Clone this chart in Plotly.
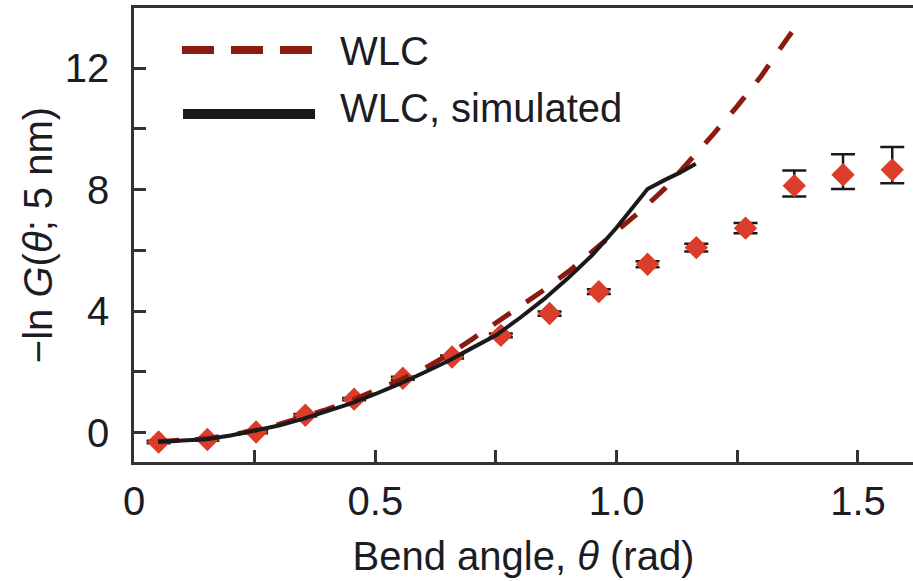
import plotly.graph_objects as go

# ---- data ----
theta_data = [0.051, 0.152, 0.253, 0.355, 0.456, 0.557, 0.659, 0.760,
              0.861, 0.963, 1.064, 1.165, 1.267, 1.368, 1.469, 1.571]
lng_data = [-0.31, -0.23, 0.02, 0.57, 1.10, 1.79, 2.49, 3.20,
            3.92, 4.64, 5.54, 6.09, 6.73, 8.13, 8.49, 8.65]
err_plus = [0.04, 0.04, 0.04, 0.04, 0.04, 0.05, 0.05, 0.06,
            0.07, 0.08, 0.10, 0.13, 0.17, 0.50, 0.67, 0.75]
err_minus = [0.04, 0.04, 0.04, 0.04, 0.04, 0.05, 0.05, 0.06,
             0.07, 0.08, 0.10, 0.13, 0.17, 0.36, 0.47, 0.44]

theta_wlc = [0.05, 0.10, 0.15, 0.20, 0.25, 0.30, 0.35, 0.40, 0.45, 0.50,
             0.55, 0.60, 0.65, 0.70, 0.75, 0.80, 0.85, 0.90, 0.95, 1.00,
             1.05, 1.10, 1.15, 1.20, 1.25, 1.30, 1.35, 1.375]
lng_wlc = [-0.30, -0.27, -0.20, -0.08, 0.07, 0.27, 0.50, 0.76, 1.05, 1.37,
           1.72, 2.09, 2.55, 3.07, 3.60, 4.15, 4.70, 5.30, 5.96, 6.64,
           7.30, 8.04, 8.90, 9.82, 10.75, 11.75, 12.90, 13.45]

theta_sim = [0.05, 0.10, 0.15, 0.20, 0.25, 0.30, 0.35, 0.40, 0.45, 0.50,
             0.55, 0.60, 0.65, 0.70, 0.75, 0.80, 0.85, 0.90, 0.95, 1.00,
             1.03, 1.064, 1.10, 1.13, 1.164]
lng_sim = [-0.30, -0.27, -0.22, -0.10, 0.05, 0.23, 0.45, 0.70, 0.96, 1.27,
           1.60, 1.97, 2.35, 2.78, 3.20, 3.78, 4.40, 5.10, 5.85, 6.75,
           7.35, 8.02, 8.32, 8.55, 8.85]

x_tickvals = [0, 0.25, 0.5, 0.75, 1.0, 1.25, 1.5]
x_ticktext = ["0", "", "0.5", "", "1.0", "", "1.5"]
y_tickvals = [0, 2, 4, 6, 8, 10, 12]
y_ticktext = ["0", "", "4", "", "8", "", "12"]

legend_labels = ["WLC", "WLC, simulated"]

# ---- style ----
FONT = "Liberation Sans, Arial, sans-serif"
FS = 40
TXT = "#1c1c24"
RED = "#dc3d2a"
DARKRED = "#8c1a10"
BLACK = "#1a1a1a"
AX = "#333333"

fig = go.Figure()

fig.add_trace(go.Scatter(
    x=theta_data, y=lng_data, mode="markers", name="data",
    marker=dict(symbol="diamond", size=18, color=RED, line=dict(width=0)),
    error_y=dict(type="data", symmetric=False, array=err_plus,
                 arrayminus=err_minus, color=BLACK, thickness=2.5, width=12),
    showlegend=False,
))
fig.add_trace(go.Scatter(
    x=theta_wlc, y=lng_wlc, mode="lines", name=legend_labels[0],
    line=dict(color=DARKRED, width=5, dash="21px,19px"),
    showlegend=False,
))
fig.add_trace(go.Scatter(
    x=theta_sim, y=lng_sim, mode="lines", name=legend_labels[1],
    line=dict(color=BLACK, width=4),
    showlegend=False,
))

# manual legend (long line samples as in the reference)
fig.add_shape(type="line", xref="paper", yref="paper",
              x0=0.0616, x1=0.2285, y0=0.9075, y1=0.9075,
              line=dict(color=DARKRED, width=8, dash="32px,17px"))
fig.add_shape(type="line", xref="paper", yref="paper",
              x0=0.0629, x1=0.2324, y0=0.7665, y1=0.7665,
              line=dict(color=BLACK, width=10))
fig.add_annotation(x=0.262, y=0.905, xref="paper", yref="paper",
                   text=legend_labels[0], showarrow=False,
                   xanchor="left", yanchor="middle",
                   font=dict(family=FONT, size=FS, color=TXT))
fig.add_annotation(x=0.262, y=0.780, xref="paper", yref="paper",
                   text=legend_labels[1], showarrow=False,
                   xanchor="left", yanchor="middle",
                   font=dict(family=FONT, size=FS, color=TXT))

fig.update_layout(
    width=913, height=581,
    margin=dict(l=134, r=0, t=8, b=119),
    paper_bgcolor="white", plot_bgcolor="white",
    font=dict(family=FONT, size=FS, color=TXT),
    showlegend=False,
)
fig.update_xaxes(
    range=[0, 1.614], tickvals=x_tickvals, ticktext=x_ticktext,
    ticks="inside", ticklen=12, tickwidth=2.5, tickcolor=AX,
    showline=True, linewidth=2.5, linecolor=AX, mirror=True,
    showgrid=False, zeroline=False,
    tickfont=dict(family=FONT, size=FS, color=TXT),
    ticklabelstandoff=2,
    title=dict(text="Bend angle, <i>θ</i> (rad)", standoff=21,
               font=dict(family=FONT, size=FS, color=TXT)),
)
fig.update_yaxes(
    range=[-0.97, 13.98], tickvals=y_tickvals, ticktext=y_ticktext,
    ticks="inside", ticklen=12, tickwidth=2.5, tickcolor=AX,
    showline=True, linewidth=2.5, linecolor=AX,
    showgrid=False, zeroline=False,
    tickfont=dict(family=FONT, size=FS, color=TXT),
    ticklabelstandoff=14,
    title=dict(text="\u2212ln <i>G</i>(<i>θ</i>; 5 nm)", standoff=0,
               font=dict(family=FONT, size=FS, color=TXT)),
)

fig.write_html("out.html")
